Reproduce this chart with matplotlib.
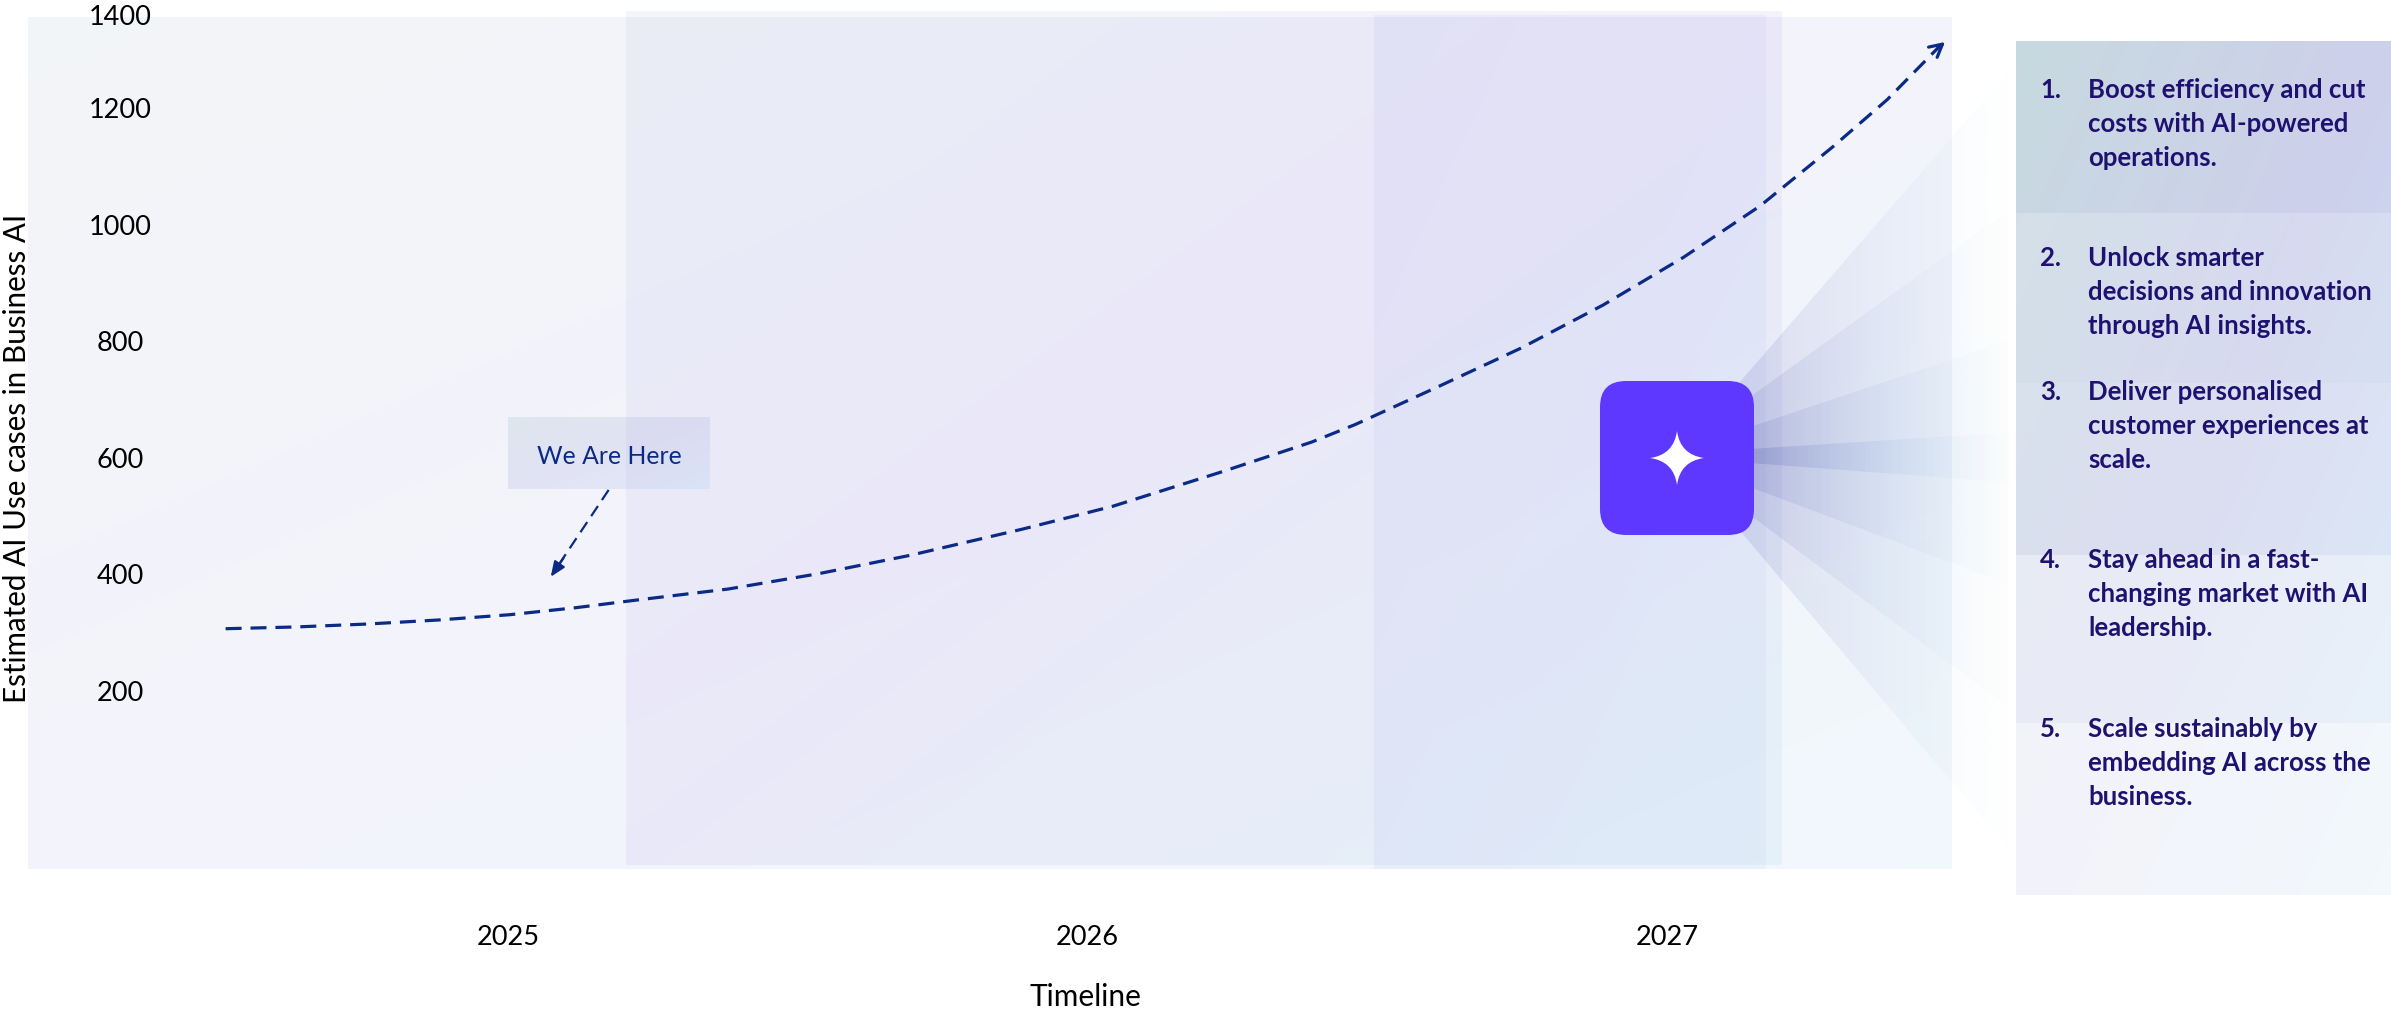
import numpy as np
import matplotlib
matplotlib.use("Agg")
import matplotlib.pyplot as plt
from matplotlib.patches import FancyBboxPatch, Polygon, PathPatch
from matplotlib.path import Path

# ---------- data ----------
curve_years = [2024.513, 2024.634, 2024.757, 2024.881, 2025.003, 2025.117, 2025.221, 2025.380, 2025.537,
               2025.695, 2025.889, 2026.044,
               2026.232, 2026.387, 2026.462, 2026.601, 2026.748, 2026.890, 2027.029, 2027.161, 2027.286,
               2027.380, 2027.468, 2027.480]
curve_values = [307, 310, 315, 322, 331, 343, 356, 375, 401.5,
                433, 478, 517,
                576, 627, 657, 720, 788, 862, 944, 1032, 1133,
                1214, 1303, 1313]
x_tick_years = [2025, 2026, 2027]
x_tick_labels = ["2025", "2026", "2027"]
y_tick_positions = [200, 400, 600, 800, 1000, 1200, 1360]
y_tick_labels = ["200", "400", "600", "800", "1000", "1200", "1400"]
here_from = (2025.174, 545)
here_to = (2025.074, 396)
x_title = "Timeline"
y_title = "Estimated AI Use cases in Business AI"
here_label = "We Are Here"
item_numbers = ["1.", "2.", "3.", "4.", "5."]
item_texts = [
    "Boost efficiency and cut\ncosts with AI-powered\noperations.",
    "Unlock smarter\ndecisions and innovation\nthrough AI insights.",
    "Deliver personalised\ncustomer experiences at\nscale.",
    "Stay ahead in a fast-\nchanging market with AI\nleadership.",
    "Scale sustainably by\nembedding AI across the\nbusiness.",
]
item_baselines = [98, 266, 400, 568, 737]

# ---------- styling ----------
W, H = 2391, 1010
DPI = 100
NAVY = "#0B2A86"
INK = "#1F1170"
FONT = ["Lato", "DejaVu Sans"]
plt.rcParams["font.family"] = FONT


def palette(a, b, c):
    return tuple(np.array(v) / 255 for v in (a, b, c))


SIDE = palette((163, 193, 203), (172, 177, 223), (170, 210, 240))
OUTER = palette((162, 184, 205), (170, 170, 230), (155, 205, 235))
MIDDLE = palette((182, 195, 228), (185, 170, 235), (162, 208, 235))
THIRD = palette((165, 170, 235), (170, 178, 240), (175, 200, 240))

fig = plt.figure(figsize=(W / DPI, H / DPI), dpi=DPI, facecolor="white")
bg = fig.add_axes([0, 0, 1, 1], zorder=0)
bg.set_axis_off()


def gradient(x0, y0, x1, y1, alpha, gx0=None, gy0=None, gx1=None, gy1=None, cols=SIDE):
    """Diagonal three-colour wash on a pixel rectangle."""
    gx0 = x0 if gx0 is None else gx0
    gy0 = y0 if gy0 is None else gy0
    gx1 = x1 if gx1 is None else gx1
    gy1 = y1 if gy1 is None else gy1
    nx, ny = max(int(x1 - x0), 2), max(int(y1 - y0), 2)
    xs = (np.linspace(x0, x1, nx) - gx0) / (gx1 - gx0)
    ys = (np.linspace(y0, y1, ny) - gy0) / (gy1 - gy0)
    t = np.clip((xs[None, :] + ys[:, None]) / 2, 0, 1)[..., None]
    low = cols[0] + (cols[1] - cols[0]) * np.clip(t * 2, 0, 1)
    rgb = low + (cols[2] - cols[1]) * np.clip(t * 2 - 1, 0, 1)
    img = np.dstack([rgb, np.full((ny, nx), alpha)])
    bg.imshow(img, extent=(x0, x1, y1, y0), aspect="auto", interpolation="bilinear")


# plot panels
gradient(28, 17, 1952, 869, 0.14, cols=OUTER)
gradient(626, 11, 1782, 865, 0.15, cols=MIDDLE)
gradient(1374, 15, 1766, 869, 0.12, cols=THIRD)

# here box
gradient(508, 417, 710, 489, 0.25)

# rays fanning out from the icon
RAYS = [
    ([(1733, 390), (2016, 63), (2016, 858), (1742, 533)], 0.13),
    ([(1750, 397), (2016, 205), (2016, 713), (1750, 515)], 0.12),
    ([(1750, 427), (2016, 338), (2016, 587), (1750, 487)], 0.14),
    ([(1750, 449), (2016, 432), (2016, 483), (1750, 463)], 0.20),
]
for poly, a in RAYS:
    xs = np.linspace(1700, 2016, 160)
    fade = np.clip((2016 - xs) / (2016 - 1754), 0, 1) ** 0.95 * a
    mix = np.clip((xs - 1754) / 200, 0, 1)[:, None]
    start = np.array([72, 80, 170]) / 255
    end = np.array([120, 170, 225]) / 255
    rgb = start + (end - start) * mix
    img = np.hstack([rgb, fade[:, None]])[None, :, :]
    im = bg.imshow(img, extent=(1700, 2016, 900, 40), aspect="auto", interpolation="bilinear")
    clip = Polygon(poly, closed=True, transform=bg.transData, fc="none", ec="none")
    bg.add_patch(clip)
    im.set_clip_path(clip)

# side panel bands
band_edges = [41, 213, 383, 555, 723, 895]
band_alphas = [0.60, 0.48, 0.43, 0.27, 0.15]
for i, a in enumerate(band_alphas):
    gradient(2016, band_edges[i], 2391, band_edges[i + 1], a, 2016, 41, 2391, 895)

# icon
bg.add_patch(FancyBboxPatch((1622, 403), 110, 110, boxstyle="round,pad=22,rounding_size=26",
                            fc="#5E38FF", ec="none", zorder=5))
cx, cy, r = 1677, 458, 27
k = 0.12 * r
star = Path(
    [(cx, cy - r), (cx + k, cy - k), (cx + r, cy), (cx + k, cy + k), (cx, cy + r),
     (cx - k, cy + k), (cx - r, cy), (cx - k, cy - k), (cx, cy - r)],
    [Path.MOVETO, Path.CURVE3, Path.CURVE3, Path.CURVE3, Path.CURVE3,
     Path.CURVE3, Path.CURVE3, Path.CURVE3, Path.CURVE3],
)
bg.add_patch(PathPatch(star, fc="white", ec="none", zorder=6))

# side panel text
for num, txt, base in zip(item_numbers, item_texts, item_baselines):
    bg.text(2040, base, num, fontsize=18.5, fontweight="bold", color=INK, va="baseline", ha="left", zorder=7)
    for j, line in enumerate(txt.split("\n")):
        bg.text(2088, base + j * 34, line, fontsize=18.5, fontweight="bold", color=INK,
                va="baseline", ha="left", zorder=7)

bg.text(609, 456, here_label, fontsize=17.8, color=NAVY, va="center", ha="center", zorder=7)

bg.set_xlim(0, W)
bg.set_ylim(H, 0)

# ---------- main axes ----------
left, right, top, bottom = 28, 1952, 0, 869
ax = fig.add_axes([left / W, 1 - bottom / H, (right - left) / W, (bottom - top) / H], zorder=2)
ax.patch.set_alpha(0)
for s in ax.spines.values():
    s.set_visible(False)
ax.set_xlim(2024.172, 2027.492)
ax.set_ylim(-105, 1385)

ax.plot(curve_years[:-1], curve_values[:-1],
        color=NAVY, lw=2.3, dashes=(5.0, 2.8), dash_capstyle="butt", dash_joinstyle="round", zorder=3)
ax.annotate("", xy=(curve_years[-1], curve_values[-1]),
            xytext=(curve_years[-2], curve_values[-2]),
            arrowprops=dict(arrowstyle="->,head_length=0.6,head_width=0.32", color=NAVY, lw=2.3,
                            shrinkA=0, shrinkB=0, mutation_scale=15), zorder=4)
ax.plot([here_from[0], here_to[0] + 0.012], [here_from[1], here_to[1] + 18], color=NAVY, lw=1.6,
        dashes=(5.5, 3.2), dash_capstyle="butt", zorder=3)
ax.annotate("", xy=here_to, xytext=(here_to[0] + 0.022, here_to[1] + 32),
            arrowprops=dict(arrowstyle="-|>,head_length=0.6,head_width=0.25", color=NAVY, lw=1.6,
                            shrinkA=0, shrinkB=0, mutation_scale=15), zorder=4)

ax.set_xticks(x_tick_years, x_tick_labels)
ax.set_yticks(y_tick_positions, y_tick_labels)
ax.tick_params(axis="both", length=0, labelsize=19.5, labelcolor="black")
ax.tick_params(axis="y", pad=-92 * 0.72)
ax.tick_params(axis="x", pad=56 * 0.72)
for lab in ax.get_yticklabels():
    lab.set_ha("center")
ax.set_xlabel(x_title, fontsize=21.5, color="black", va="center")
ax.xaxis.set_label_coords((1085 - left) / (right - left), -(997 - bottom) / (bottom - top))
ax.set_ylabel(y_title, fontsize=21.3, color="black", va="center", rotation=90)
ax.yaxis.set_label_coords((17 - left) / (right - left), (bottom - 458) / (bottom - top))

fig.savefig("out.png", dpi=DPI)
